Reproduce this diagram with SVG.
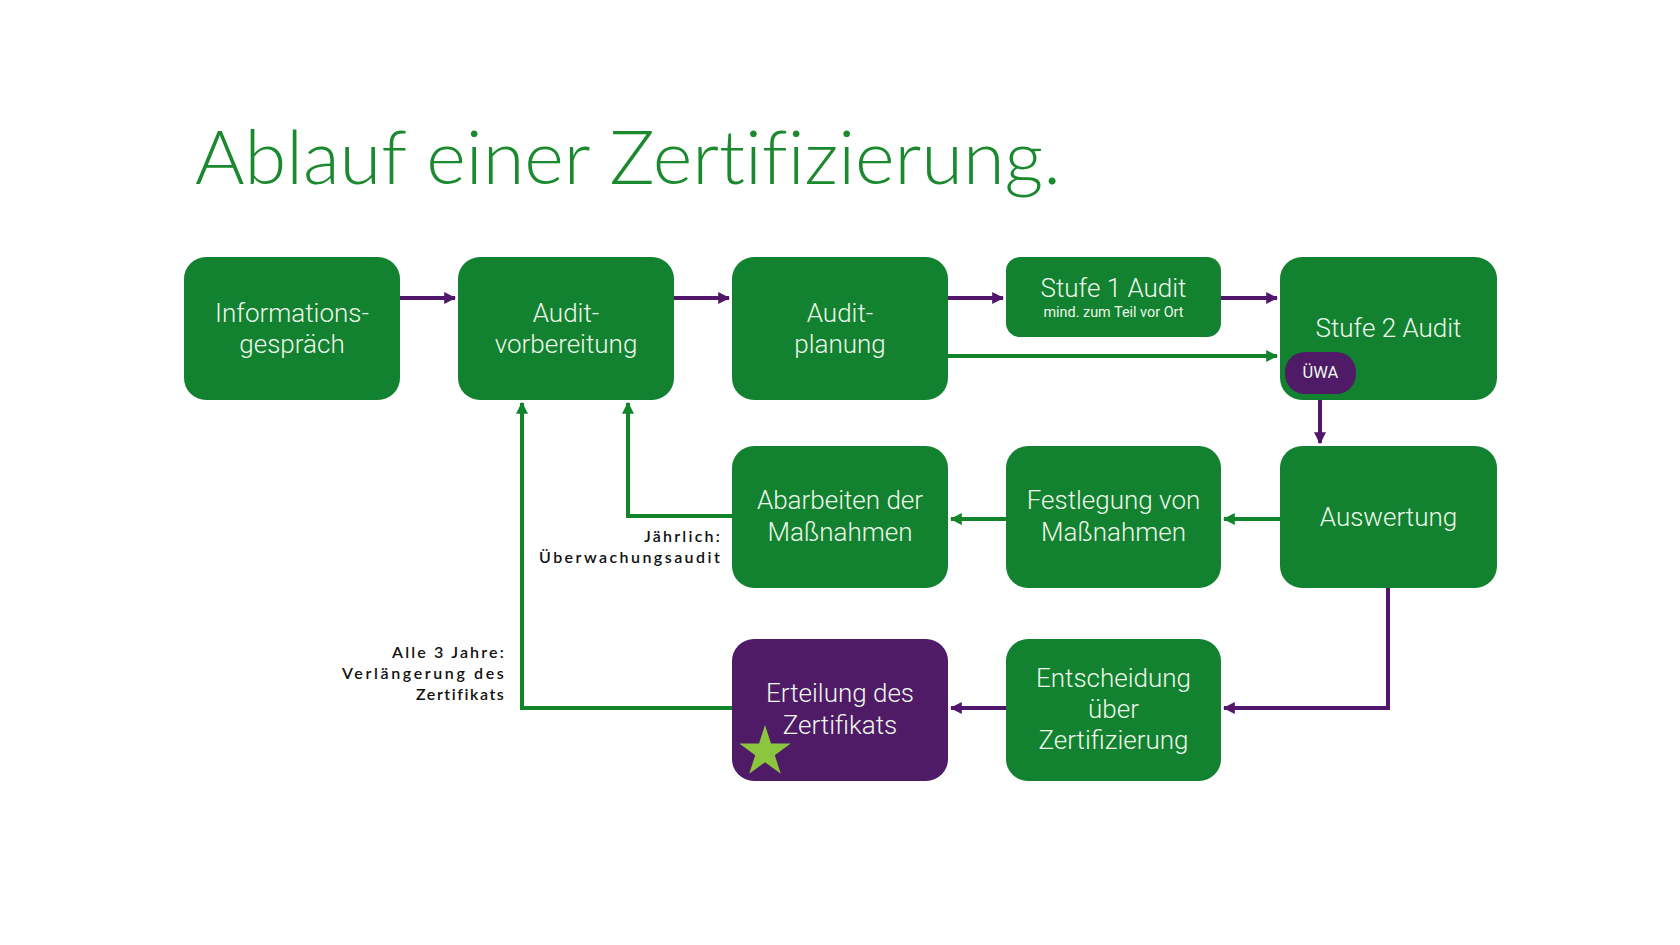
<svg xmlns="http://www.w3.org/2000/svg" width="1680" height="945" viewBox="0 0 1680 945">
<defs>
<style>
.box{fill:#128130}
.boxp{fill:#4f1a66}
.t{font-family:Roboto,"Liberation Sans",sans-serif;font-weight:300;font-size:26px;fill:#eef8ea;text-anchor:middle}
.ts{font-family:Roboto,"Liberation Sans",sans-serif;font-weight:400;font-size:14.4px;fill:#eef8ea;text-anchor:middle}
.lbl{font-family:Lato,"Liberation Sans",sans-serif;font-weight:600;font-size:16px;fill:#111;text-anchor:end;letter-spacing:1.2px}
.cp{fill:none;stroke:#52166b;stroke-width:4}
.cg{fill:none;stroke:#12842c;stroke-width:4}
</style>
<marker id="ap" viewBox="0 0 10 10" refX="9" refY="5" markerWidth="3" markerHeight="3" orient="auto" markerUnits="strokeWidth">
<path d="M0,0 L10,5 L0,10 z" fill="#52166b"/>
</marker>
<marker id="ag" viewBox="0 0 10 10" refX="9" refY="5" markerWidth="3" markerHeight="3" orient="auto" markerUnits="strokeWidth">
<path d="M0,0 L10,5 L0,10 z" fill="#12842c"/>
</marker>
</defs>
<rect width="1680" height="945" fill="#ffffff"/>
<text x="195" y="184" font-family="Lato,'Liberation Sans',sans-serif" font-weight="300" font-size="74" fill="#1b8a2f" style="font-variant-ligatures:none;font-feature-settings:'liga' 0" textLength="866" lengthAdjust="spacingAndGlyphs">Ablauf einer Zertifizierung.</text>

<g id="connectors">
<path class="cp" d="M400,298 H455" marker-end="url(#ap)"/>
<path class="cp" d="M674,298 H729" marker-end="url(#ap)"/>
<path class="cp" d="M948,298 H1003" marker-end="url(#ap)"/>
<path class="cp" d="M1221,298 H1277" marker-end="url(#ap)"/>
<path class="cg" d="M948,356 H1277" marker-end="url(#ag)"/>
<path class="cp" d="M1320,394 V443" marker-end="url(#ap)"/>
<path class="cg" d="M1280,519 H1224" marker-end="url(#ag)"/>
<path class="cg" d="M1006,519 H951" marker-end="url(#ag)"/>
<path class="cg" d="M732,516 H628 V403" marker-end="url(#ag)"/>
<path class="cp" d="M1388,588 V708 H1224" marker-end="url(#ap)"/>
<path class="cp" d="M1006,708 H951" marker-end="url(#ap)"/>
<path class="cg" d="M732,708 H522 V403" marker-end="url(#ag)"/>
</g>

<g id="n-info">
<rect class="box" x="184" y="257" width="216" height="143" rx="22"/>
<text class="t" x="292" y="322">Informations-</text>
<text class="t" x="292" y="353">gespräch</text>
</g>
<g id="n-vorbereitung">
<rect class="box" x="458" y="257" width="216" height="143" rx="22"/>
<text class="t" x="566" y="322">Audit-</text>
<text class="t" x="566" y="353">vorbereitung</text>
</g>
<g id="n-planung">
<rect class="box" x="732" y="257" width="216" height="143" rx="22"/>
<text class="t" x="840" y="322">Audit-</text>
<text class="t" x="840" y="353">planung</text>
</g>
<g id="n-stufe1">
<rect class="box" x="1006" y="257" width="215" height="80" rx="14"/>
<text class="t" x="1113.5" y="297">Stufe 1 Audit</text>
<text class="ts" x="1113.5" y="317">mind. zum Teil vor Ort</text>
</g>
<g id="n-stufe2">
<rect class="box" x="1280" y="257" width="217" height="143" rx="22"/>
<text class="t" x="1388.5" y="337">Stufe 2 Audit</text>
<rect class="boxp" x="1285" y="352" width="71" height="42" rx="20"/>
<text class="ts" x="1320.5" y="378" style="font-size:16.5px">ÜWA</text>
</g>
<g id="n-abarbeiten">
<rect class="box" x="732" y="446" width="216" height="142" rx="22"/>
<text class="t" x="840" y="509">Abarbeiten der</text>
<text class="t" x="840" y="541">Maßnahmen</text>
</g>
<g id="n-festlegung">
<rect class="box" x="1006" y="446" width="215" height="142" rx="22"/>
<text class="t" x="1113.5" y="509">Festlegung von</text>
<text class="t" x="1113.5" y="541">Maßnahmen</text>
</g>
<g id="n-auswertung">
<rect class="box" x="1280" y="446" width="217" height="142" rx="22"/>
<text class="t" x="1388.5" y="526">Auswertung</text>
</g>
<g id="n-erteilung">
<rect class="boxp" x="732" y="639" width="216" height="142" rx="22"/>
<text class="t" x="840" y="702">Erteilung des</text>
<text class="t" x="840" y="734">Zertifikats</text>
<polygon fill="#8cc63e" points="765,725 771,743.5 790.7,743.6 774.8,755.2 780.8,773.8 765,762.3 749.2,773.8 755.2,755.2 739.3,743.6 759,743.5"/>
</g>
<g id="n-entscheidung">
<rect class="box" x="1006" y="639" width="215" height="142" rx="22"/>
<text class="t" x="1113.5" y="687">Entscheidung</text>
<text class="t" x="1113.5" y="718">über</text>
<text class="t" x="1113.5" y="749">Zertifizierung</text>
</g>

<g id="labels">
<text class="lbl" x="721" y="542" textLength="77">Jährlich:</text>
<text class="lbl" x="721" y="563" textLength="182">Überwachungsaudit</text>
<text class="lbl" x="505" y="658" textLength="113">Alle 3 Jahre:</text>
<text class="lbl" x="505" y="679" textLength="163">Verlängerung des</text>
<text class="lbl" x="505" y="700" textLength="89">Zertifikats</text>
</g>
</svg>
